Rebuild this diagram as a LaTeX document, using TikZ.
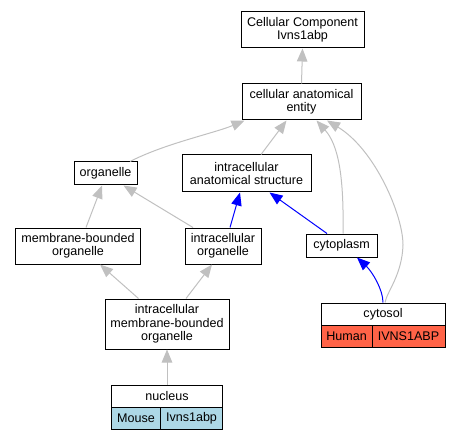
\documentclass[tikz,border=0pt]{standalone}
\usepackage{fontspec}
\setmainfont{Liberation Sans}
\usetikzlibrary{arrows.meta}
\definecolor{edgegray}{HTML}{C0C0C0}
\definecolor{humanred}{HTML}{FF6347}
\definecolor{mouseblue}{HTML}{ADD8E6}
\begin{document}
\begin{tikzpicture}[x=1bp,y=-1bp]
			\tikzstyle{every node}+=[font=\fontsize{12.6}{13.5}\selectfont,inner sep=0pt,align=center]
			\tikzstyle{term}=[rectangle,draw=black,line width=1bp,fill=white]
			\tikzstyle{cell}=[term,minimum height=22bp]
			\tikzstyle{isa}=[draw=edgegray,line width=1bp,-{Triangle[length=13bp,width=10.5bp]}]
			\tikzstyle{partof}=[draw=blue,line width=1bp,-{Triangle[length=13bp,width=10.5bp]}]
			\useasboundingbox (0,0) rectangle (460,440);
			\node [term,minimum width=123bp,minimum height=36bp] (cc) at (302.5,30) {Cellular Component\\Ivns1abp};
			\node [term,minimum width=119bp,minimum height=36bp] (cae) at (301.5,102) {cellular anatomical\\entity};
			\node [term,minimum width=63bp,minimum height=23bp] (org) at (105.5,173.5) {organelle};
			\node [term,minimum width=129bp,minimum height=37bp] (ias) at (246.5,173.5) {intracellular\\anatomical structure};
			\node [term,minimum width=124bp,minimum height=36bp] (mbo) at (78,246) {membrane-bounded\\organelle};
			\node [term,minimum width=76bp,minimum height=36bp] (io) at (223,246) {intracellular\\organelle};
			\node [term,minimum width=71bp,minimum height=23bp] (cyp) at (341.5,245.5) {cytoplasm};
			\node [term,minimum width=124bp,minimum height=50bp] (imbo) at (167,324) {intracellular\\membrane-bounded\\organelle};
			\node [cell,minimum width=124bp] (cyt) at (383,314) {cytosol};
			\node [cell,minimum width=51bp,fill=humanred] (cythuman) at (346.5,336) {Human};
			\node [cell,minimum width=73bp,fill=humanred] (cytgene) at (408.5,336) {IVNS1ABP};
			\node [cell,minimum width=111bp] (nuc) at (167,396) {nucleus};
			\node [cell,minimum width=49bp,fill=mouseblue] (nucmouse) at (136,418) {Mouse};
			\node [cell,minimum width=62bp,fill=mouseblue] (nucgene) at (191.5,418) {Ivns1abp};
			\coordinate (cytbend) at (403,245);
			% is_a
			\draw [isa] (cae.north) -- (cc.south);
			\draw [isa] ([xshift=24.5bp]org.north) .. controls +(35,-18) and +(-29.5,12.5) .. ([xshift=-57bp]cae.south);
			\draw [isa] ([xshift=14.5bp]ias.north) -- ([xshift=-15bp]cae.south);
			\draw [isa] ([xshift=1.5bp]cyp.north) .. controls +(1,-59) and +(21.5,24) .. ([xshift=15bp]cae.south);
			\draw [isa] ([xshift=2bp]cyt.north) .. controls +(2,-11) and +(-1,30) .. (cytbend) .. controls +(0,-30) and +(48,29) .. ([xshift=25.5bp]cae.south);
			\draw [isa] ([xshift=8bp]mbo.north) -- ([xshift=-3.5bp]org.south);
			\draw [isa] ([xshift=-30bp]io.north) -- ([xshift=18bp]org.south);
			\draw [isa] ([xshift=-28.5bp]imbo.north) -- ([xshift=22bp]mbo.south);
			\draw [isa] ([xshift=19bp]imbo.north) -- ([xshift=-11bp]io.south);
			\draw [isa] (nuc.north) -- (imbo.south);
			% part_of
			\draw [partof] ([xshift=7bp]io.north) -- ([xshift=-6.5bp]ias.south);
			\draw [partof] ([xshift=-14.5bp]cyp.north) -- ([xshift=23bp]ias.south);
			\draw [partof] (cyt.north) .. controls +(0,-13) and +(15,14) .. ([xshift=15.5bp]cyp.south);
\end{tikzpicture}
\end{document}
